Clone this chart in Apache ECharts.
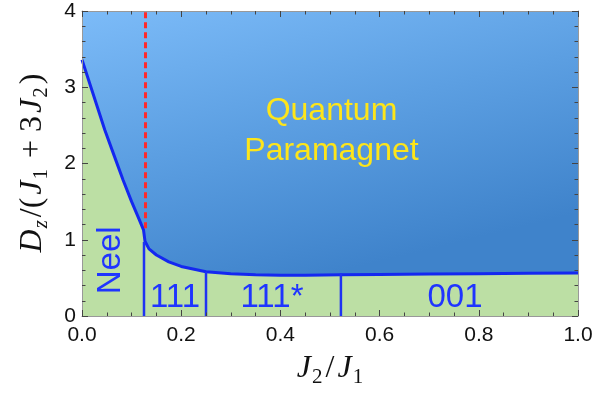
<!DOCTYPE html>
<html>
<head>
<meta charset="utf-8">
<script src="https://cdn.jsdelivr.net/npm/echarts@6/dist/echarts.min.js"></script>
<style>html,body{margin:0;padding:0;background:#fff}#c{width:612px;height:397px}</style>
</head>
<body>
<div id="c"></div>
<script>
// Phase boundary between ordered phases (below) and quantum paramagnet (above)
var boundaryX = [0, 0.02, 0.046, 0.065, 0.083, 0.1, 0.115, 0.124, 0.127, 0.135, 0.15, 0.175, 0.2, 0.25, 0.3, 0.35, 0.4, 0.45, 0.522, 0.6, 0.7, 0.8, 0.9, 1.0];
var boundaryY = [3.36, 2.96, 2.44, 2.1, 1.78, 1.5, 1.27, 1.13, 0.98, 0.88, 0.8, 0.71, 0.65, 0.58, 0.555, 0.54, 0.535, 0.535, 0.54, 0.545, 0.55, 0.555, 0.56, 0.565];
// vertical phase separators (x position, top value)
var separatorX = [0.125, 0.25, 0.522];
var separatorTop = [0.97, 0.58, 0.56];
// red dashed line
var dashedX = 0.128;
var dashedRange = [1.15, 4];
// phase labels
var phaseNames = ['Neel', '111', '111*', '001', 'Quantum\nParamagnet'];
var phaseX = [0.058, 0.1875, 0.383, 0.752, 0.503];
var phaseY = [0.73, 0.236, 0.236, 0.236, 2.43];
var xTicks = ['0.0', '0.2', '0.4', '0.6', '0.8', '1.0'];
var yTicks = ['0', '1', '2', '3', '4'];

var chart = echarts.init(document.getElementById('c'), null, {renderer: 'canvas'});
var blue = '#1f33f2';
var series = [];
series.push({
  type: 'line', data: boundaryX.map(function (x, i) { return [x, boundaryY[i]]; }),
  symbol: 'none', smooth: false, z: 3,
  lineStyle: {color: '#1428f0', width: 3},
  areaStyle: {color: '#bcdfa4', opacity: 1, origin: 'start'}
});
separatorX.forEach(function (x, i) {
  series.push({type: 'line', data: [[x, 0], [x, separatorTop[i]]], symbol: 'none', z: 4,
    lineStyle: {color: blue, width: 2.5}});
});
series.push({type: 'line', data: [[dashedX, dashedRange[0]], [dashedX, dashedRange[1]]], symbol: 'none', z: 4,
  lineStyle: {color: '#ff2a2a', width: 3, type: [6, 4]}});
series.push({
  type: 'scatter', symbolSize: 1, z: 6,
  itemStyle: {opacity: 1, color: 'rgba(0,0,0,0)'},
  emphasis: {disabled: true},
  data: phaseNames.map(function (n, i) {
    var item = {value: [phaseX[i], phaseY[i]], name: n};
    if (n === 'Neel') item.label = {rotate: 90};
    if (i === 4) item.label = {color: '#fde51a', fontSize: 32, lineHeight: 40};
    return item;
  }),
  label: {show: true, position: 'inside', formatter: function (p) { return p.name; },
    color: '#1f35ff', fontSize: 33, fontFamily: 'Liberation Sans', align: 'center', verticalAlign: 'middle'}
});

var tickStyle = {color: '#444', width: 1};
var labFont = {fontFamily: 'Liberation Sans', fontSize: 21, color: '#111'};
var richTitle = {
  i: {fontFamily: 'Liberation Serif', fontStyle: 'italic', fontSize: 32, color: '#111', verticalAlign: 'middle', lineHeight: 38, padding: [0, 1, 0, 2]},
  n: {fontFamily: 'Liberation Serif', fontSize: 32, color: '#111', verticalAlign: 'middle', lineHeight: 38, padding: [0, 1, 0, 1]},
  s: {fontFamily: 'Liberation Serif', fontSize: 21, color: '#111', verticalAlign: 'bottom', lineHeight: 38, padding: [0, 2, 0, 0]},
  sz: {fontFamily: 'Liberation Serif', fontStyle: 'italic', fontSize: 21, color: '#111', verticalAlign: 'bottom', lineHeight: 38, padding: [0, 2, 0, 0]}
};
function baseAxis(extra) {
  return Object.assign({
    type: 'value', splitLine: {show: false}, z: 10,
    axisLine: {show: true, onZero: false, lineStyle: {color: '#999', width: 1}},
    axisTick: {show: true, inside: true, length: 6, lineStyle: tickStyle}
  }, extra);
}
chart.setOption({
  animation: false,
  backgroundColor: '#fff',
  grid: {left: 82, right: 34, top: 11, bottom: 81, show: true, borderWidth: 0,
    backgroundColor: {type: 'linear', x: 0, y: 0, x2: 0.15, y2: 1,
      colorStops: [{offset: 0, color: '#7cbbf8'}, {offset: 0.5, color: '#5c9fe2'}, {offset: 1, color: '#3f83cb'}]}},
  xAxis: [
    baseAxis({min: 0, max: 1, interval: 0.2, position: 'bottom',
      minorTick: {show: true, splitNumber: 4, length: 3.5, lineStyle: tickStyle},
      axisLabel: Object.assign({margin: 9, formatter: function (v) { return xTicks[Math.round(v / 0.2)]; }}, labFont),
      name: '{i|J}{s|2}{n|/}{i|J}{s|1}', nameLocation: 'middle', nameGap: 34,
      nameTextStyle: {rich: richTitle}}),
    baseAxis({min: 0, max: 1, interval: 0.2, position: 'top',
      minorTick: {show: true, splitNumber: 4, length: 3.5, lineStyle: tickStyle},
      axisLabel: {show: false}})
  ],
  yAxis: [
    baseAxis({min: 0, max: 4, interval: 1, position: 'left',
      minorTick: {show: true, splitNumber: 5, length: 3.5, lineStyle: tickStyle},
      axisLabel: Object.assign({margin: 6, formatter: function (v) { return yTicks[Math.round(v)]; }}, labFont),
      name: '{i|D}{sz|z}{n|/(}{i|J}{s|1}{n| + 3}{i|J}{s|2}{n|)}', nameLocation: 'middle', nameGap: 30, nameRotate: 90,
      nameTextStyle: {rich: richTitle}}),
    baseAxis({min: 0, max: 4, interval: 1, position: 'right',
      minorTick: {show: true, splitNumber: 5, length: 3.5, lineStyle: tickStyle},
      axisLabel: {show: false}})
  ],
  series: series
});
</script>
</body>
</html>
